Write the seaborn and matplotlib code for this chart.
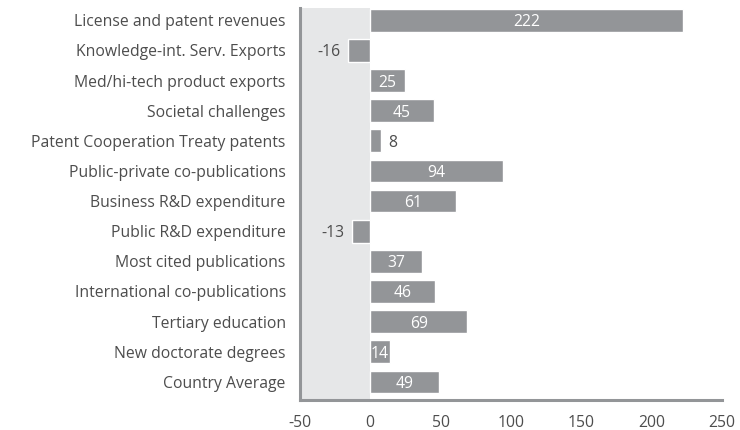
import numpy as np
import pandas as pd
from matplotlib import pyplot as plt
import seaborn as sns

categories = ["License and patent revenues", "Knowledge-int. Serv. Exports",
              "Med/hi-tech product exports", "Societal challenges",
              "Patent Cooperation Treaty patents", "Public-private co-publications",
              "Business R&D expenditure", "Public R&D expenditure",
              "Most cited publications", "International co-publications",
              "Tertiary education", "New doctorate degrees", "Country Average"]
values = [222, -16, 25, 45, 8, 94, 61, -13, 37, 46, 69, 14, 49]
xticks = [-50, 0, 50, 100, 150, 200, 250]

df = pd.DataFrame({"indicator": categories, "value": values})

bar_col = "#939598"
text_col = "#4d4d4d"

sns.set_style("white")
plt.rcParams['font.family'] = ['Open Sans', 'DejaVu Sans']

fig = plt.figure(figsize=(7.4, 4.3), dpi=100)
ax = fig.add_axes([0.405, 0.0698, 0.571, 0.9112])

ax.axvspan(-50, 0, color="#e6e7e8", zorder=0, lw=0)
sns.barplot(data=df, x="value", y="indicator", orient="h", color=bar_col,
            saturation=1, width=0.75, ax=ax, zorder=2)

fs = 11.3
for i, v in enumerate(values):
    if v >= 10:
        ax.text(v / 2, i, str(v), color="white", ha="center", va="center_baseline",
                fontsize=fs, zorder=3)
    elif v >= 0:
        ax.text(v + 5, i, str(v), color=text_col, ha="left", va="center_baseline",
                fontsize=fs, zorder=3)
    else:
        ax.text(v - 5, i, str(v), color=text_col, ha="right", va="center_baseline",
                fontsize=fs, zorder=3)

ax.set_xlim(-50, 250)
ax.set_ylim(12.6, -0.4)
ax.set_xticks(xticks)
ax.set_xticklabels([str(t) for t in xticks])
ax.set_xlabel("")
ax.set_ylabel("")

for s in ["top", "right"]:
    ax.spines[s].set_visible(False)
for s in ["left", "bottom"]:
    ax.spines[s].set_color(bar_col)
    ax.spines[s].set_linewidth(2.2)
    ax.spines[s].set_zorder(4)

# white ticks cut small gaps into the spines
ax.tick_params(axis="x", direction="inout", length=6, width=1.6, color="white",
               pad=8, labelsize=fs, labelcolor=text_col)
ax.tick_params(axis="y", direction="inout", length=6, width=1.6, color="white",
               pad=7, labelsize=fs, labelcolor=text_col)
for t in ax.xaxis.get_major_ticks()[:1] + ax.xaxis.get_major_ticks()[-1:]:
    t.tick1line.set_visible(False)
for t in ax.xaxis.get_major_ticks() + ax.yaxis.get_major_ticks():
    t.tick1line.set_zorder(5)

plt.savefig("out.png", dpi=100)
